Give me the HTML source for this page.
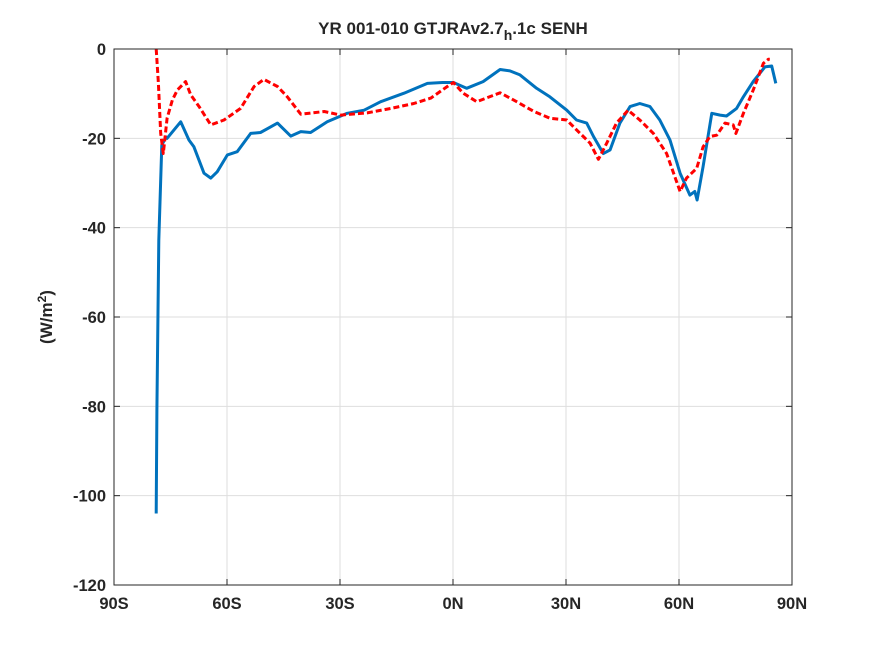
<!DOCTYPE html>
<html><head><meta charset="utf-8"><style>
body{margin:0;background:#fff;}
svg text{font-family:"Liberation Sans",sans-serif;font-weight:bold;fill:#262626;}
</style></head><body>
<svg id="chart" width="875" height="656" xmlns="http://www.w3.org/2000/svg">
<rect width="875" height="656" fill="#fff"/>
<g id="grid"></g>
<g id="series"></g>
<rect x="114" y="49" width="678" height="536" fill="none" stroke="#262626" stroke-width="1"/>
<g id="ticks"></g>
<text x="453" y="34" text-anchor="middle" font-size="17">YR 001-010 GTJRAv2.7<tspan dy="6" font-size="14">h</tspan><tspan dy="-6">.1c SENH</tspan></text>
<text transform="translate(52,317) rotate(-90)" text-anchor="middle" font-size="17">(W/m<tspan dy="-6" font-size="12">2</tspan><tspan dy="6">)</tspan></text>
</svg>
<script>
const xTicks=[-90,-60,-30,0,30,60,90];
const xTickLabels=["90S","60S","30S","0N","30N","60N","90N"];
const yTicks=[0,-20,-40,-60,-80,-100,-120];
const yTickLabels=["0","-20","-40","-60","-80","-100","-120"];
const blueLat=[-78.8,-78.6,-78.1,-77.3,-76.2,-75.9,-72.3,-70.1,-68.8,-66.1,-64.3,-62.6,-59.9,-57.3,-53.7,-51.1,-46.6,-43.1,-40.4,-37.8,-33.4,-28.1,-23.6,-19.2,-13,-6.8,-2.8,0.1,3.6,8.0,12.5,15.1,17.8,22.2,25.7,30.2,32.8,35.5,37.3,39.9,41.7,44.3,47,49.6,52.3,54.9,57.6,60.3,62.9,64.2,64.8,66.4,68.7,70.9,72.6,75.3,77.1,79.7,82.8,84.6,85.7];
const blueVal=[-104,-80.8,-42.8,-21.5,-19.7,-20,-16.3,-20.4,-21.9,-27.8,-28.9,-27.5,-23.7,-23,-18.9,-18.7,-16.6,-19.5,-18.5,-18.7,-16.3,-14.4,-13.7,-11.8,-9.9,-7.7,-7.5,-7.5,-8.8,-7.3,-4.6,-4.9,-5.8,-8.8,-10.7,-13.7,-15.9,-16.6,-19.6,-23.4,-22.6,-16.6,-12.9,-12.2,-12.9,-15.9,-20.4,-27.8,-32.7,-31.9,-33.8,-26.3,-14.4,-14.8,-15,-13.3,-10.7,-7.3,-4.0,-3.8,-7.7];
const redLat=[-78.8,-78.2,-77.6,-76.9,-75.9,-74.5,-73.2,-71,-69.6,-67.4,-64.3,-60.8,-56.4,-52.8,-50.2,-46.6,-44,-40.4,-34.2,-29.8,-22.8,-16.5,-10.4,-5.9,-1.5,0.1,2.7,6.3,12.5,16.9,21.3,25.7,30.2,32.8,36.4,38.6,40.8,43.4,46.5,49.6,53.2,56.7,60.3,62,64.7,66.4,68.2,70,72.2,74.4,75.1,77.1,79.7,82.4,83.7,84.1];
const redVal=[0,-7.7,-18.9,-23.4,-15.5,-11.4,-9.2,-7.3,-10.3,-12.9,-17,-15.9,-13.3,-8.4,-6.8,-8.4,-10.7,-14.6,-14,-14.8,-14.3,-13.3,-12.2,-11,-8.4,-7.5,-9.9,-11.8,-9.8,-11.8,-13.9,-15.5,-15.9,-18.1,-21.1,-24.7,-21.1,-16.6,-13.7,-15.9,-18.9,-23.4,-31.9,-28.9,-26.7,-21.9,-19.6,-19.3,-16.6,-17,-18.9,-14.4,-9.2,-3.2,-2.3,-2.3];
const X0=114,X1=792,Y0=49,Y1=585;
const xs=v=>X0+(v+90)/180*(X1-X0);
const ys=v=>Y0+(0-v)/120*(Y1-Y0);
const NS="http://www.w3.org/2000/svg";
const grid=document.getElementById('grid'),ticks=document.getElementById('ticks'),series=document.getElementById('series');
function mk(tag,attrs,parent){const e=document.createElementNS(NS,tag);for(const k in attrs)e.setAttribute(k,attrs[k]);parent.appendChild(e);return e;}
xTicks.forEach((t,i)=>{const x=xs(t);
 const g=mk('line',{x1:x,x2:x,y1:Y0,y2:Y1,stroke:'#dedede','stroke-width':1},grid);
 
 
 const a=mk('line',{x1:x,x2:x,y1:Y1,y2:Y1-6,stroke:'#262626'},ticks);
 
 
 const b=mk('line',{x1:x,x2:x,y1:Y0,y2:Y0+6,stroke:'#262626'},ticks);
 
 
 const l=mk('text',{x:x,y:Y1+24,'text-anchor':'middle','font-size':16.5},ticks);l.textContent=xTickLabels[i];
 
 
});
yTicks.forEach((t,i)=>{const y=ys(t);
 const g=mk('line',{x1:X0,x2:X1,y1:y,y2:y,stroke:'#dedede','stroke-width':1},grid);
 
 
 const a=mk('line',{x1:X0,x2:X0+6,y1:y,y2:y,stroke:'#262626'},ticks);
 
 
 const b=mk('line',{x1:X1,x2:X1-6,y1:y,y2:y,stroke:'#262626'},ticks);
 
 
 const l=mk('text',{x:X0-8,y:y+6,'text-anchor':'end','font-size':16.5},ticks);l.textContent=yTickLabels[i];
 
 
});
function pts(la,va){return la.map((v,i)=>xs(v).toFixed(1)+','+ys(va[i]).toFixed(1)).join(' ');}
const bl=mk('polyline',{points:pts(blueLat,blueVal),fill:'none',stroke:'#0072bd','stroke-width':3,'stroke-linejoin':'round'},series);


const rl=mk('polyline',{points:pts(redLat,redVal),fill:'none',stroke:'#ff0000','stroke-width':3,'stroke-dasharray':'6,3','stroke-linejoin':'round'},series);


</script>
</body></html>
